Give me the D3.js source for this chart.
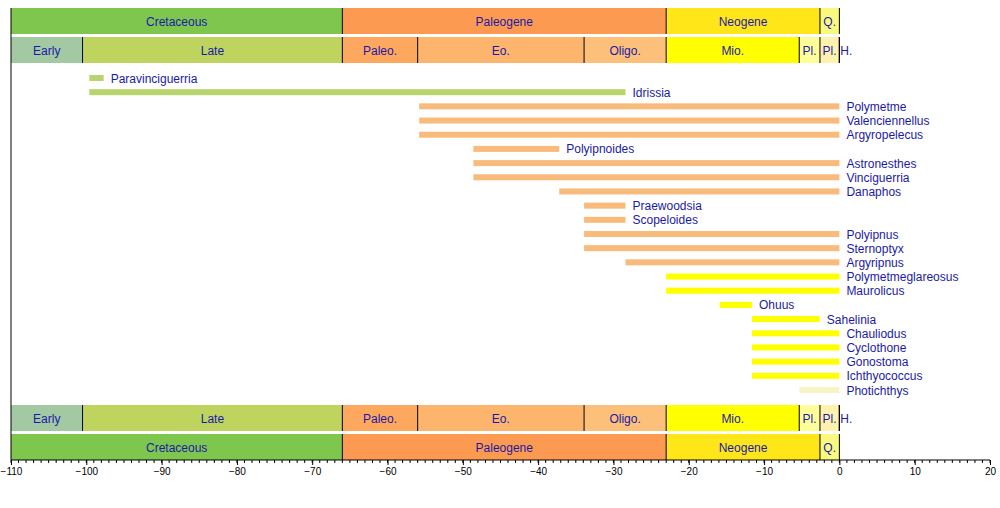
<!DOCTYPE html><html><head><meta charset="utf-8"><script src="https://cdn.jsdelivr.net/npm/d3@7"></script>
<style>body{margin:0;background:#fff}text{font-family:"Liberation Sans",Arial,sans-serif}</style></head><body><svg id="c" width="1000" height="508"></svg>
<script>
const taxa=["Paravinciguerria","Idrissia","Polymetme","Valenciennellus","Argyropelecus","Polyipnoides","Astronesthes","Vinciguerria","Danaphos","Praewoodsia","Scopeloides","Polyipnus","Sternoptyx","Argyripnus","Polymetmeglareosus","Maurolicus","Ohuus","Sahelinia","Chauliodus","Cyclothone","Gonostoma","Ichthyococcus","Photichthys"];
const starts=[-99.6,-99.6,-55.8,-55.8,-55.8,-48.6,-48.6,-48.6,-37.2,-33.9,-33.9,-33.9,-33.9,-28.4,-23,-23,-15.9,-11.6,-11.6,-11.6,-11.6,-11.6,-5.3];
const ends=[-97.7,-28.4,0,0,0,-37.2,0,0,0,-28.4,-28.4,0,0,0,0,0,-11.6,-2.6,0,0,0,0,0];
const barColors=["#b8d46c","#b8d46c","#f9bb7c","#f9bb7c","#f9bb7c","#f9bb7c","#f9bb7c","#f9bb7c","#f9bb7c","#f9bb7c","#f9bb7c","#f9bb7c","#f9bb7c","#f9bb7c","#ffff00","#ffff00","#ffff00","#ffff00","#ffff00","#ffff00","#ffff00","#ffff00","#f4f4c4"];
const epochNames=["Early","Late","Paleo.","Eo.","Oligo.","Mio.","Pl.","Pl.","H."];
const epochStart=[-110,-100.5,-66,-56,-33.9,-23,-5.33,-2.58,-0.0117];
const epochEnd=[-100.5,-66,-56,-33.9,-23,-5.33,-2.58,-0.0117,0];
const epochColors=["#a3c9a3","#bfd35f","#fda75f","#fdb46c","#fdc07a","#ffff00","#ffff99","#fff2ae","#fef2e0"];
const periodNames=["Cretaceous","Paleogene","Neogene","Q."];
const periodStart=[-110,-66,-23,-2.58];
const periodEnd=[-66,-23,-2.58,0];
const periodColors=["#7fc64e","#fd9a52","#ffe619","#f9f97f"];
const svg=d3.select("#c");
const x=d3.scaleLinear().domain([-110,20]).range([11,990]);
const y=d3.scaleLinear().domain([0,22]).range([78,390]);
const tc="#1a1aa8";
function band(names,s,e,cols,y0,h){
 const g=svg.append("g");
 names.forEach((n,i)=>{
  g.append("rect").attr("x",x(s[i])).attr("y",y0).attr("width",x(e[i])-x(s[i])).attr("height",h).attr("fill",cols[i]);
  if(i>0)g.append("line").attr("x1",x(s[i])).attr("x2",x(s[i])).attr("y1",y0).attr("y2",y0+h).attr("stroke","#000");
  g.append("text").attr("x",n=="H."?x(s[i])+1:(x(s[i])+x(e[i]))/2).attr("y",y0+h/2+4.5).attr("text-anchor",n=="H."?"start":"middle").attr("font-size",12).attr("fill",tc).text(n);
 });
 g.append("line").attr("x1",x(0)).attr("x2",x(0)).attr("y1",y0).attr("y2",y0+h).attr("stroke","#000");
}
band(periodNames,periodStart,periodEnd,periodColors,8,26);
band(epochNames,epochStart,epochEnd,epochColors,37,26);
band(epochNames,epochStart,epochEnd,epochColors,405,26);
band(periodNames,periodStart,periodEnd,periodColors,434,26);
svg.append("line").attr("x1",11).attr("x2",11).attr("y1",8).attr("y2",460).attr("stroke","#000");
taxa.forEach((t,i)=>{
 svg.append("rect").attr("x",x(starts[i])).attr("y",y(i)-3).attr("width",x(ends[i])-x(starts[i])).attr("height",6).attr("fill",barColors[i]);
 svg.append("text").attr("x",x(ends[i])+7).attr("y",y(i)+4.5).attr("font-size",12).attr("fill",tc).text(t);
});
const ax=svg.append("g").attr("transform","translate(0,460)");
ax.call(d3.axisBottom(x).tickValues(d3.range(-110,21,10)).tickSize(5).tickFormat(d3.format("d")));
ax.append("g").selectAll("line").data(d3.range(-110,21,1)).join("line").attr("x1",d=>x(d)).attr("x2",d=>x(d)).attr("y1",0).attr("y2",3).attr("stroke","#000");
ax.selectAll("text").attr("font-size",10).attr("fill","#000").attr("font-family","Liberation Sans");
ax.select(".domain").attr("d",`M${x(-110)},0H${x(20)}`);
</script></body></html>
